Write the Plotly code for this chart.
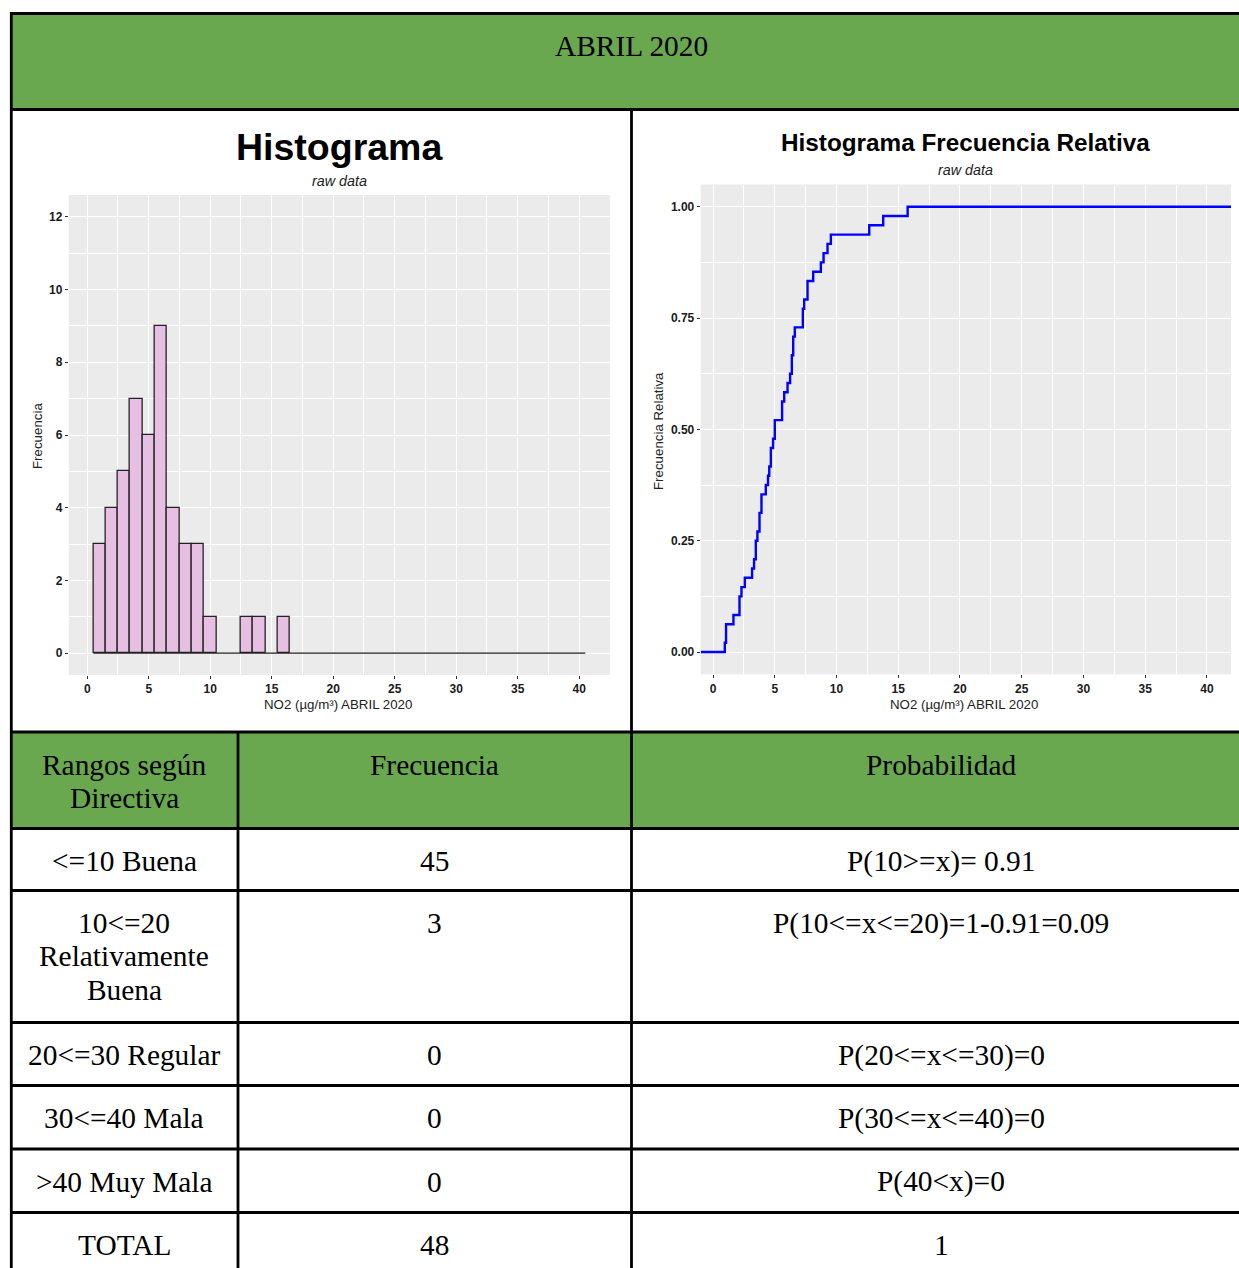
import plotly.graph_objects as go

# ---------------- DATA ----------------
# NO2 daily values (µg/m³), April 2020, read from the ECDF / histogram
no2 = [0.95, 1.05, 1.05,
       1.65, 2.14, 2.14, 2.30,
       2.57, 3.16, 3.32, 3.46, 3.46,
       3.59, 3.76, 3.76, 3.92, 3.92, 4.27, 4.45,
       4.55, 4.68, 4.68, 4.86, 5.00, 5.00,
       5.59, 5.59, 5.76, 6.03, 6.24, 6.38, 6.38, 6.49, 6.49,
       6.62, 7.27, 7.27, 7.38,
       7.65, 7.65, 8.11,
       8.73, 8.95, 9.27,
       9.54,
       12.65, 13.78, 15.76]

title_main = "ABRIL 2020"
hist_title = "Histograma"
ecdf_title = "Histograma Frecuencia Relativa"
subtitle = "raw data"
x_label = "NO2 (µg/m³) ABRIL 2020"
y_label_hist = "Frecuencia"
y_label_ecdf = "Frecuencia Relativa"

table_header = ["Rangos según<br>Directiva", "Frecuencia", "Probabilidad"]
rangos = ["&lt;=10 Buena", "10&lt;=20<br>Relativamente<br>Buena", "20&lt;=30 Regular",
          "30&lt;=40 Mala", "&gt;40 Muy Mala", "TOTAL"]
frecuencias = ["45", "3", "0", "0", "0", "48"]
probabilidades = ["P(10&gt;=x)= 0.91", "P(10&lt;=x&lt;=20)=1-0.91=0.09", "P(20&lt;=x&lt;=30)=0",
                  "P(30&lt;=x&lt;=40)=0", "P(40&lt;x)=0", "1"]

BIN_START, BIN_END, BIN_SIZE = 0.5, 40.5, 1
ECDF_XMAX = 40

# ---------------- GEOMETRY HELPERS ----------------
W, H = 1239, 1268
def px(x):
    return x / W
def py(y):
    return 1 - y / H

SANS = "Liberation Sans, Arial, sans-serif"
SERIF = "Liberation Serif, Times New Roman, serif"
GREEN = "#6AA84F"

fig = go.Figure()

# Histogram
fig.add_trace(go.Histogram(
    x=no2, autobinx=False,
    xbins=dict(start=BIN_START, end=BIN_END, size=BIN_SIZE),
    marker=dict(color="#E6BFE2", line=dict(color="#222222", width=1.3)),
    xaxis="x", yaxis="y", showlegend=False, hoverinfo="skip"))
# zero-count baseline (ggplot draws empty bins as flat outlines)
fig.add_trace(go.Scatter(
    x=[BIN_START, BIN_END], y=[0, 0], mode="lines",
    line=dict(color="#222222", width=1.3),
    xaxis="x", yaxis="y", showlegend=False, hoverinfo="skip"))

# ECDF
xs = sorted(no2)
n = len(xs)
lo, hi = min(no2), ECDF_XMAX
pad = 0.05 * (hi - lo)
XR2 = [lo - pad, hi + pad]
ex = [XR2[0]] + xs + [XR2[1]]
ey = [0] + [(i + 1) / n for i in range(n)] + [1]
fig.add_trace(go.Scatter(
    x=ex, y=ey, mode="lines", line=dict(shape="hv", color="#0000FF", width=2.4),
    xaxis="x2", yaxis="y2", showlegend=False, hoverinfo="skip"))

tickfont = dict(family=SANS, size=12, color="#1a1a1a", weight="bold")
common = dict(showline=False, zeroline=False, ticks="outside", ticklen=3,
              tickwidth=1, tickcolor="#333333", showgrid=True,
              gridcolor="white", gridwidth=1.1, tickfont=tickfont)

fig.update_layout(
    width=W, height=H, autosize=False,
    margin=dict(l=0, r=0, t=0, b=0),
    paper_bgcolor="white", plot_bgcolor="#EBEBEB",
    bargap=0,
    xaxis=dict(domain=[px(68.8), px(609.9)], range=[-1.5, 42.5], tick0=0, dtick=5,
               minor=dict(tick0=0, dtick=2.5, showgrid=True, gridcolor="white", gridwidth=0.5),
               anchor="y", **common),
    yaxis=dict(domain=[py(675), py(195)], range=[-0.6, 12.6], tick0=0, dtick=2,
               minor=dict(tick0=0, dtick=1, showgrid=True, gridcolor="white", gridwidth=0.5),
               anchor="x", **common),
    xaxis2=dict(domain=[px(700.7), px(1231)], range=XR2, tick0=0, dtick=5,
                minor=dict(tick0=0, dtick=2.5, showgrid=True, gridcolor="white", gridwidth=0.5),
                anchor="y2", **common),
    yaxis2=dict(domain=[py(674.3), py(184.5)], range=[-0.05, 1.05], tick0=0, dtick=0.25,
                tickformat=".2f",
                minor=dict(tick0=0, dtick=0.125, showgrid=True, gridcolor="white", gridwidth=0.5),
                anchor="x2", **common),
)

shapes = []
# green fills
shapes.append(dict(type="rect", xref="paper", yref="paper", x0=px(11), x1=px(1245),
                   y0=py(109.5), y1=py(13.5), fillcolor=GREEN, line=dict(width=0), layer="below"))
shapes.append(dict(type="rect", xref="paper", yref="paper", x0=px(11), x1=px(1245),
                   y0=py(828.5), y1=py(732), fillcolor=GREEN, line=dict(width=0), layer="below"))
LW = 2.8
for yy in [13.5, 109.5, 732, 828.5, 890.5, 1022.5, 1085.5, 1149, 1212.5]:
    shapes.append(dict(type="line", xref="paper", yref="paper", x0=px(10), x1=px(1245),
                       y0=py(yy), y1=py(yy), line=dict(color="black", width=LW)))
shapes.append(dict(type="line", xref="paper", yref="paper", x0=px(11.3), x1=px(11.3),
                   y0=py(12), y1=py(1275), line=dict(color="black", width=LW)))
shapes.append(dict(type="line", xref="paper", yref="paper", x0=px(631.5), x1=px(631.5),
                   y0=py(108), y1=py(1275), line=dict(color="black", width=LW)))
shapes.append(dict(type="line", xref="paper", yref="paper", x0=px(238), x1=px(238),
                   y0=py(731), y1=py(1275), line=dict(color="black", width=LW)))
fig.update_layout(shapes=shapes)

ann = []
def text(x, y, s, font, angle=0):
    ann.append(dict(x=px(x), y=py(y), xref="paper", yref="paper", text=s, showarrow=False,
                    xanchor="center", yanchor="middle", font=font, textangle=angle))

serif_font = dict(family=SERIF, size=29.4, color="black")
text(631.5, 46, title_main, serif_font)

# chart titles
text(339, 146.5, hist_title, dict(family=SANS, size=37.5, color="black", weight="bold"))
text(339, 181, subtitle, dict(family=SANS, size=14.3, color="#222222", style="italic"))
text(965, 143, ecdf_title, dict(family=SANS, size=24.3, color="black", weight="bold"))
text(965, 170, subtitle, dict(family=SANS, size=14.3, color="#222222", style="italic"))
axfont = dict(family=SANS, size=13.3, color="#222222")
text(338, 704, x_label, axfont)
text(964, 704, x_label, axfont)
text(37, 436, y_label_hist, axfont, angle=-90)
text(658, 431, y_label_ecdf, axfont, angle=-90)

# table
LINE_H = 33.3
col_x = [124.5, 434.5, 941]
row_tops = [732, 828.5, 890.5, 1022.5, 1085.5, 1149, 1212.5]
OFFSET = 32.5

def cell(cx, top, s):
    for i, line in enumerate(s.split("<br>")):
        text(cx, top + OFFSET + i * LINE_H, line, serif_font)

for j, h in enumerate(table_header):
    cell(col_x[j], row_tops[0], h)
for i in range(len(rangos)):
    top = row_tops[i + 1]
    cell(col_x[0], top, rangos[i])
    cell(col_x[1], top, frecuencias[i])
    cell(col_x[2], top, probabilidades[i])

fig.update_layout(annotations=ann)

fig.write_html("out.html", config={"displayModeBar": False},
               post_script="document.body.style.margin='0px';document.body.style.overflow='hidden';")
